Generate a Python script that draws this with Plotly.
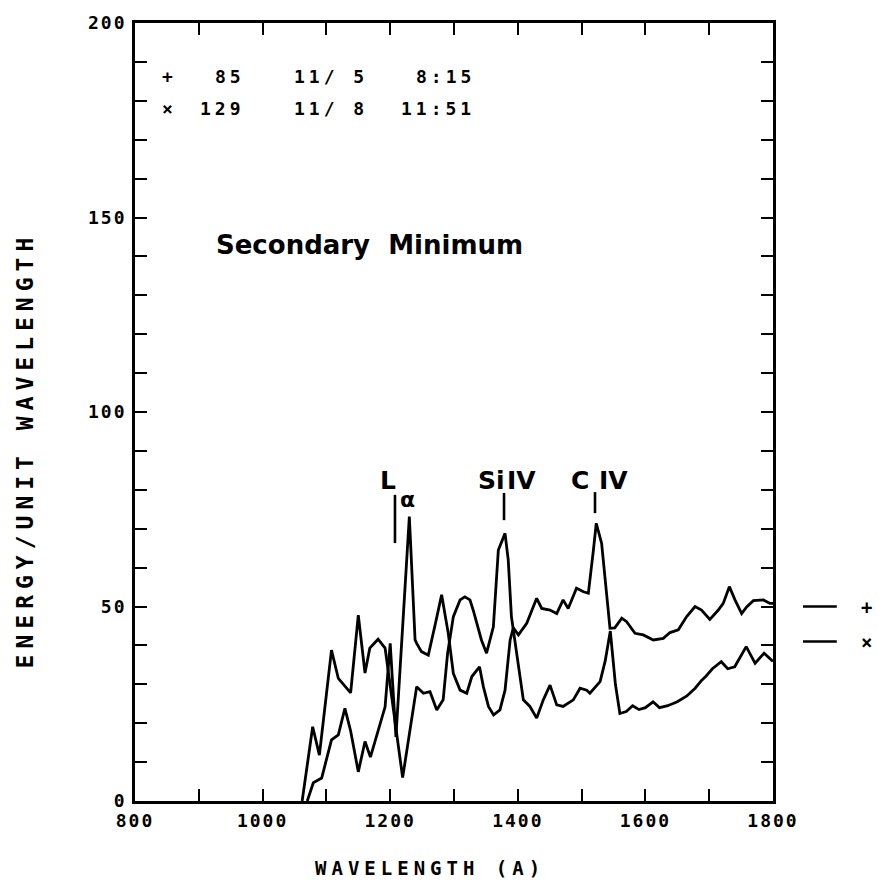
import plotly.graph_objects as go

# ---------------- data ----------------
# "+" spectrum (image 85, 11/5 8:15)
plus_wl = [1070, 1079.5, 1092.6, 1108, 1118.7, 1129, 1138, 1150, 1160.5, 1169, 1192, 1200, 1209,
           1218, 1230, 1239, 1241.5, 1249, 1259.7, 1270, 1280.6, 1291, 1299, 1309.5, 1320, 1328,
           1340, 1346, 1354, 1362, 1372, 1380, 1388, 1393, 1401, 1414, 1429.6, 1437.5, 1450.5,
           1461, 1471, 1479, 1492, 1503, 1510.6, 1518.5, 1523, 1531.4, 1539, 1544.5, 1552, 1563,
           1570.6, 1583.7, 1596.7, 1612.4, 1628, 1638.6, 1651.6, 1664.7, 1677.8, 1688, 1701,
           1714.3, 1722, 1731.6, 1740.4, 1750.9, 1758.7, 1769.2, 1784.9, 1795.3, 1800]
plus_val = [0, 4.7, 5.9, 15.7, 17, 23.8, 18, 7.5, 15.3, 11.3, 24.2, 40.5, 16.5,
            41.4, 73.1, 41.4, 40.5, 38.4, 37.5, 45, 53, 43.1, 32.8, 28.5, 27.7, 32,
            34.5, 29.4, 24.3, 22.1, 23.4, 28.5, 41.4, 44.5, 42.7, 45.7, 52.1, 49.5, 49.1,
            48.2, 51.7, 49.5, 54.7, 53.8, 53.4, 64.5, 71.4, 66.2, 54.2, 44.4, 44.5, 47,
            46.1, 43.1, 42.7, 41.4, 41.8, 43.3, 44, 47.4, 50, 49.1, 46.7,
            49.1, 50.8, 55.1, 51.7, 48.2, 49.9, 51.5, 51.7, 50.8, 50.8]

# "x" spectrum (image 129, 11/8 11:51)
cross_wl = [1062, 1078.5, 1089, 1108, 1118.7, 1138, 1150, 1160.5, 1168, 1181, 1192, 1219.5,
            1241.5, 1252, 1262.4, 1273, 1283, 1290, 1299, 1309.5, 1317, 1325, 1330, 1343, 1351,
            1361.7, 1369.5, 1380, 1385, 1390, 1408.7, 1419, 1429.6, 1440, 1450.5, 1461, 1471,
            1487, 1497.6, 1508, 1513, 1529, 1537, 1545, 1553, 1560, 1570, 1580, 1590, 1600,
            1612, 1622, 1635, 1650, 1665, 1678, 1688, 1694.5, 1705, 1719, 1729, 1740, 1758,
            1772, 1786, 1795, 1800]
cross_val = [0, 19.1, 11.8, 38.8, 31.5, 27.8, 47.8, 32.9, 39.3, 41.6, 39.3, 6,
             29.4, 27.7, 28.1, 23.4, 26, 38, 47.4, 51.7, 52.5, 51.7, 49.1, 41.4, 38,
             44.8, 64.5, 68.8, 62, 47.4, 26, 24.3, 21.3, 26, 29.8, 24.7, 24.3,
             26, 29, 28.5, 27.7, 30.7, 36, 43.7, 30, 22.5, 23, 24.5, 23.5, 24,
             25.5, 24, 24.5, 25.5, 27, 29, 31, 32, 34, 35.8, 34, 34.5, 39.7,
             35.4, 38, 36.5, 35.9]

# axis ticks
x_major = [800, 1000, 1200, 1400, 1600, 1800]
x_labels = ["800", "1000", "1200", "1400", "1600", "1800"]
y_major = [0, 50, 100, 150, 200]
y_labels = ["0", "50", "100", "150", "200"]

# legend rows: symbol, image number, date, time
legend_symbols = ["+", "\u00d7"]
legend_numbers = ["85", "129"]
legend_dates = ["11/ 5", "11/ 8"]
legend_times = ["8:15", "11:51"]

# spectral line identifications: wavelength of marker tick, tick bottom/top values
line_tick_wl = [1207.5, 1378.4, 1521]
line_tick_lo = [66.3, 72.2, 74.0]
line_tick_hi = [78.7, 79.2, 79.4]

# end-of-curve markers at right
end_symbols = ["+", "\u00d7"]
end_levels = [50, 41]

MONO = "DejaVu Sans Mono"
BOLD = "DejaVu Sans"


def spaced(t, ls=2, bold=True):
    t = f"<b>{t}</b>" if bold else t
    return f'<span style="letter-spacing:{ls}px">{t}</span>'


fig = go.Figure()
for wl, val in [(plus_wl, plus_val), (cross_wl, cross_val)]:
    fig.add_trace(go.Scatter(x=wl, y=val, mode="lines",
                             line=dict(color="black", width=2.8, shape="linear"),
                             showlegend=False, hoverinfo="skip"))

axis_common = dict(showgrid=False, zeroline=False, showline=True, linecolor="black",
                   linewidth=2.8, mirror="ticks", ticks="inside", ticklen=12,
                   tickwidth=2.4, tickcolor="black",
                   tickfont=dict(family=MONO, size=18, color="black"))

fig.update_layout(
    width=878, height=883,
    margin=dict(l=135, r=105, t=23, b=82),
    paper_bgcolor="white", plot_bgcolor="white",
    xaxis=dict(range=[800, 1800], tickvals=x_major,
               ticktext=[spaced(t) for t in x_labels],
               minor=dict(dtick=100, tick0=800, ticks="inside", ticklen=12,
                          tickwidth=2.4, tickcolor="black", showgrid=False),
               ticklabelstandoff=1, **axis_common),
    yaxis=dict(range=[0, 200], tickvals=y_major,
               ticktext=[spaced(t) for t in y_labels],
               minor=dict(dtick=10, tick0=0, ticks="inside", ticklen=12,
                          tickwidth=2.4, tickcolor="black", showgrid=False),
               ticklabelstandoff=2, **axis_common),
)

ann = []


def add_text(text, x, y, font, xref="paper", yref="paper", xanchor="center",
             yanchor="middle", textangle=0):
    ann.append(dict(text=text, x=x, y=y, xref=xref, yref=yref, xanchor=xanchor,
                    yanchor=yanchor, textangle=textangle, showarrow=False, font=font))


# axis titles
add_text(spaced("ENERGY/UNIT WAVELENGTH", 6), -0.172, 0.451,
         dict(family=MONO, size=23, color="black"), textangle=-90)
add_text(spaced("WAVELENGTH (A)", 5), 0.462, -0.0861,
         dict(family=MONO, size=19, color="black"))

# legend block
row_y = [0.9306, 0.8907]
lf = dict(family=MONO, size=18, color="black")
for i in range(2):
    add_text(spaced(legend_symbols[i], 0), 0.0502, row_y[i], lf)
    add_text(spaced(legend_numbers[i], 4), 0.176, row_y[i], lf, xanchor="right")
    add_text(spaced(legend_dates[i], 4), 0.2461, row_y[i], lf, xanchor="left")
    add_text(spaced(legend_times[i], 4), 0.536, row_y[i], lf, xanchor="right")

# title inside plot
add_text("<b>Secondary  Minimum</b>", 0.368, 0.7147,
         dict(family=BOLD, size=26, color="black"))

# line identifications
lab_font = dict(family=BOLD, size=25, color="black")
add_text("<b>L</b>", 1196.6, 82.5, lab_font, "x", "y")
add_text("<b>α</b>", 1227, 77.5, dict(family=BOLD, size=22, color="black"), "x", "y")
add_text("<b>Si</b>", 1358.8, 82.5, lab_font, "x", "y")
add_text("<b>IV</b>", 1405.8, 82.5, lab_font, "x", "y")
add_text("<b>C</b>", 1497.5, 82.5, lab_font, "x", "y")
add_text("<b>IV</b>", 1550, 82.5, lab_font, "x", "y")

shapes = []
for wl, lo, hi in zip(line_tick_wl, line_tick_lo, line_tick_hi):
    shapes.append(dict(type="line", xref="x", yref="y", x0=wl, x1=wl, y0=lo, y1=hi,
                       line=dict(color="black", width=2.6)))

# right-hand end markers
for sym, lev in zip(end_symbols, end_levels):
    shapes.append(dict(type="line", xref="paper", yref="y", x0=1.047, x1=1.1, y0=lev, y1=lev,
                       line=dict(color="black", width=2.6)))
    add_text(f"<b>{sym}</b>", 1.147, lev, dict(family=MONO, size=19, color="black"),
             "paper", "y")

fig.update_layout(annotations=ann, shapes=shapes)
fig.write_html("out.html",
               config={"displayModeBar": False},
               post_script="document.body.style.margin='0';"
                           "document.body.style.overflow='hidden';")
